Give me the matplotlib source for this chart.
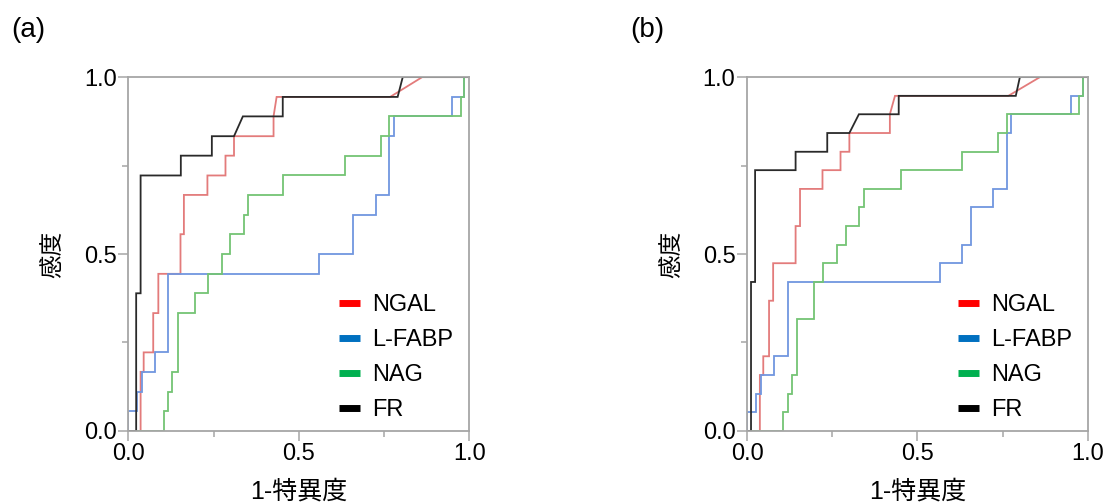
import matplotlib
matplotlib.use("Agg")
import matplotlib.pyplot as plt
from matplotlib.lines import Line2D
from matplotlib.ticker import MultipleLocator

plt.rcParams['font.family'] = ['Liberation Sans', 'Noto Sans CJK JP']
plt.rcParams['font.size'] = 17

# ROC curves, panel (a): 18 positive cases
a_ngal_x = [0, 0.036, 0.036, 0.045, 0.045, 0.073, 0.073, 0.088, 0.088, 0.153, 0.153, 0.163, 0.163,
            0.232, 0.232, 0.285, 0.285, 0.310, 0.310, 0.426, 0.426, 0.435, 0.768, 0.862, 1.0]
a_ngal_y = [0, 0, 0.167, 0.167, 0.222, 0.222, 0.333, 0.333, 0.444, 0.444, 0.556, 0.556, 0.667,
            0.667, 0.722, 0.722, 0.778, 0.778, 0.833, 0.833, 0.889, 0.944, 0.944, 1.0, 1.0]
a_lfabp_x = [0, 0, 0.0245, 0.0245, 0.039, 0.039, 0.078, 0.078, 0.117, 0.117, 0.558, 0.558, 0.66,
             0.66, 0.727, 0.727, 0.765, 0.765, 0.78, 0.78, 0.949, 0.949, 0.986, 0.986, 1.0]
a_lfabp_y = [0, 0.056, 0.056, 0.111, 0.111, 0.167, 0.167, 0.222, 0.222, 0.444, 0.444, 0.5, 0.5,
             0.611, 0.611, 0.667, 0.667, 0.833, 0.833, 0.889, 0.889, 0.944, 0.944, 1.0, 1.0]
a_nag_x = [0, 0.105, 0.105, 0.117, 0.117, 0.129, 0.129, 0.147, 0.147, 0.196, 0.196, 0.235, 0.235,
           0.274, 0.274, 0.299, 0.299, 0.338, 0.338, 0.35, 0.35, 0.455, 0.455, 0.636, 0.636, 0.741,
           0.741, 0.766, 0.766, 0.976, 0.976, 0.986, 0.986, 1.0]
a_nag_y = [0, 0, 0.056, 0.056, 0.111, 0.111, 0.167, 0.167, 0.333, 0.333, 0.389, 0.389, 0.444,
           0.444, 0.5, 0.5, 0.556, 0.556, 0.611, 0.611, 0.667, 0.667, 0.722, 0.722, 0.778, 0.778,
           0.833, 0.833, 0.889, 0.889, 0.944, 0.944, 1.0, 1.0]
a_fr_x = [0, 0.023, 0.023, 0.036, 0.036, 0.154, 0.154, 0.245, 0.245, 0.310, 0.336, 0.453, 0.453,
          0.79, 0.805, 1.0]
a_fr_y = [0, 0, 0.389, 0.389, 0.722, 0.722, 0.778, 0.778, 0.833, 0.833, 0.889, 0.889, 0.944,
          0.944, 1.0, 1.0]

# ROC curves, panel (b): 19 positive cases
b_ngal_x = [0, 0.037, 0.037, 0.047, 0.047, 0.064, 0.064, 0.076, 0.076, 0.142, 0.142, 0.155, 0.155,
            0.221, 0.221, 0.274, 0.274, 0.30, 0.30, 0.419, 0.419, 0.434, 0.767, 0.86, 1.0]
b_ngal_y = [0, 0, 0.158, 0.158, 0.211, 0.211, 0.368, 0.368, 0.474, 0.474, 0.579, 0.579, 0.684,
            0.684, 0.737, 0.737, 0.789, 0.789, 0.842, 0.842, 0.895, 0.947, 0.947, 1.0, 1.0]
b_lfabp_x = [0, 0, 0.026, 0.026, 0.039, 0.039, 0.079, 0.079, 0.119, 0.119, 0.566, 0.566, 0.632,
             0.632, 0.657, 0.657, 0.723, 0.723, 0.764, 0.764, 0.775, 0.775, 0.95, 0.95, 0.987,
             0.987, 1.0]
b_lfabp_y = [0, 0.053, 0.053, 0.105, 0.105, 0.158, 0.158, 0.211, 0.211, 0.421, 0.421, 0.474,
             0.474, 0.526, 0.526, 0.632, 0.632, 0.684, 0.684, 0.842, 0.842, 0.895, 0.895, 0.947,
             0.947, 1.0, 1.0]
b_nag_x = [0, 0.104, 0.104, 0.119, 0.119, 0.132, 0.132, 0.147, 0.147, 0.196, 0.196, 0.223, 0.223,
           0.263, 0.263, 0.29, 0.29, 0.328, 0.328, 0.343, 0.343, 0.451, 0.451, 0.632, 0.632, 0.737,
           0.737, 0.764, 0.764, 0.974, 0.974, 0.987, 0.987, 1.0]
b_nag_y = [0, 0, 0.053, 0.053, 0.105, 0.105, 0.158, 0.158, 0.316, 0.316, 0.421, 0.421, 0.474,
           0.474, 0.526, 0.526, 0.579, 0.579, 0.632, 0.632, 0.684, 0.684, 0.737, 0.737, 0.789,
           0.789, 0.842, 0.842, 0.895, 0.895, 0.947, 0.947, 1.0, 1.0]
b_fr_x = [0, 0.011, 0.011, 0.023, 0.023, 0.142, 0.142, 0.235, 0.235, 0.30, 0.328, 0.445, 0.445,
          0.789, 0.801, 1.0]
b_fr_y = [0, 0, 0.421, 0.421, 0.737, 0.737, 0.789, 0.789, 0.842, 0.842, 0.895, 0.895, 0.947,
          0.947, 1.0, 1.0]

markers = ['NGAL', 'L-FABP', 'NAG', 'FR']
line_colors = ['#E37B7B', '#7196DF', '#74C474', '#2A2A2A']
legend_colors = ['#FF0000', '#0070C0', '#00B050', '#000000']

panels = [
    ('(a)', [(a_ngal_x, a_ngal_y), (a_lfabp_x, a_lfabp_y), (a_nag_x, a_nag_y), (a_fr_x, a_fr_y)]),
    ('(b)', [(b_ngal_x, b_ngal_y), (b_lfabp_x, b_lfabp_y), (b_nag_x, b_nag_y), (b_fr_x, b_fr_y)]),
]

fig = plt.figure(figsize=(11.14, 5.04), dpi=100)
axes_rects = [[0.1152, 0.145, 0.306, 0.702], [0.6708, 0.145, 0.3055, 0.702]]
label_pos = [(0.010, 0.94), (0.566, 0.94)]
spine_color = '#A6A6A6'

for (tag, curves), rect, lp in zip(panels, axes_rects, label_pos):
    ax = fig.add_axes(rect)
    for (xs, ys), c in zip(curves, line_colors):
        ax.plot(xs, ys, color=c, linewidth=1.3, solid_joinstyle='miter')
    ax.set_xlim(0, 1)
    ax.set_ylim(0, 1)
    ax.set_xticks([0, 0.5, 1.0])
    ax.set_yticks([0, 0.5, 1.0])
    ax.set_xticklabels(['0.0', '0.5', '1.0'])
    ax.set_yticklabels(['0.0', '0.5', '1.0'])
    ax.xaxis.set_minor_locator(MultipleLocator(0.25))
    ax.yaxis.set_minor_locator(MultipleLocator(0.25))
    ax.tick_params(which='major', direction='out', length=7, width=1.1, color=spine_color,
                   labelsize=17, pad=1.5)
    ax.tick_params(which='minor', direction='out', length=4, width=1.1, color=spine_color)
    for s in ax.spines.values():
        s.set_color(spine_color)
        s.set_linewidth(1.3)
    ax.set_xlabel('1-特異度', fontsize=18, labelpad=11)
    ax.set_ylabel('感度', fontsize=17, labelpad=14)

    handles = [Line2D([], [], color=c, linewidth=5, solid_capstyle='butt') for c in legend_colors]
    ax.legend(handles, markers, loc='lower left', bbox_to_anchor=(0.618, 0.028), frameon=False,
              handlelength=0.9, handletextpad=0.5, labelspacing=0.55, fontsize=17,
              borderpad=0, borderaxespad=0)

    fig.text(lp[0], lp[1], tag, fontsize=20, va='center', ha='left')

fig.savefig('out.png', dpi=100)
